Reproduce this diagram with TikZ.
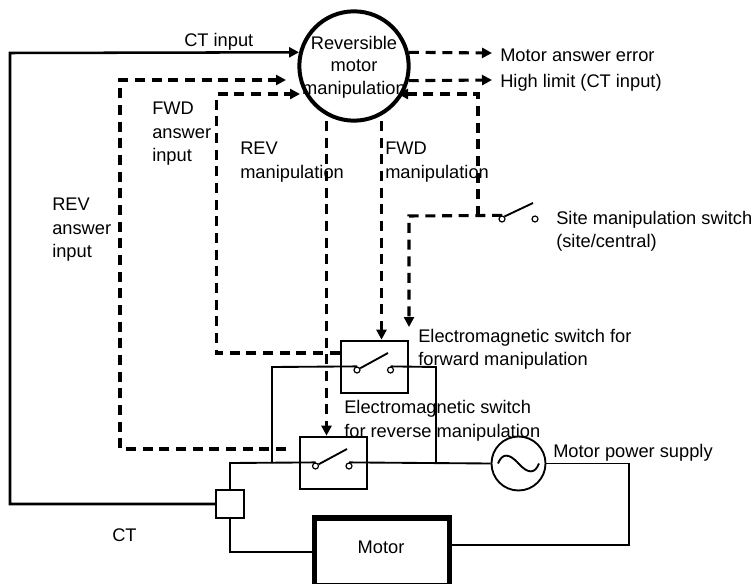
\documentclass[tikz,border=0pt]{standalone}
\usepackage{fontspec}
\setmainfont{Liberation Sans}
\usetikzlibrary{arrows.meta}

\begin{document}
\begin{tikzpicture}[
  x=0.75pt, y=-0.75pt,
  font=\fontsize{13.7}{17.6}\selectfont,
  txt/.style={anchor=west, align=left, inner sep=0pt},
  ctrlbox/.style={circle, draw, line width=3pt, minimum size=82pt, inner sep=0pt},
  relay/.style={draw, line width=1.4pt, minimum width=50.8pt, minimum height=39.6pt, inner sep=0pt},
  contact/.style={circle, draw, fill=white, line width=0.9pt, minimum size=4.5pt, inner sep=0pt},
  wire/.style={line width=1.4pt},
  lever/.style={line width=1.4pt},
  sigline/.style={-{Triangle[length=7.5pt,width=7.5pt]}, line width=1.9pt},
  dashline/.style={line width=2.3pt, dash pattern=on 7.5pt off 5pt},
  dasharrow/.style={dashline, -{Triangle[length=7.5pt,width=7.5pt,sep=0pt]}}
]
\useasboundingbox (0,0) rectangle (755,584);

\node[ctrlbox] (ctrl) at (354,66) {};
\node[align=center, inner sep=0pt, font=\fontsize{13.7}{16.8}\selectfont] (ctrltext) at (354,67) {Reversible\\motor\\manipulation};
\node[relay] (swf) at (374.5,367) {};
\node[relay] (swr) at (333.5,463) {};
\node[draw, line width=1.4pt, minimum size=20.5pt, inner sep=0pt] (ct) at (230,504) {};
\node[draw, line width=3.8pt, minimum width=101.5pt, minimum height=51pt, inner sep=0pt] (motor) at (382,552) {};
\node (motortext) at (381,547) {Motor};
\node[circle, draw, line width=1.4pt, minimum size=40.5pt, inner sep=0pt] (supply) at (518.5,463.5) {};

\node[contact] (fa) at (357,370) {};
\node[contact] (fb) at (390.5,370) {};
\node[contact] (ra) at (315.5,466) {};
\node[contact] (rb) at (349,466) {};
\node[contact] (sa) at (502,219) {};
\node[contact] (sb) at (535,219) {};
\coordinate (ftip) at (388,353);
\coordinate (rtip) at (347,449);
\coordinate (stip) at (533,203);

\coordinate (ctcorner) at (10,53);
\coordinate (bushigh) at (272,367);
\coordinate (buslow) at (272,463);
\coordinate (bushigh2) at (436,367);
\coordinate (buslow2) at (436,463);
\coordinate (ctjoin) at (230,463);
\coordinate (rightjoin) at (629,463.5);
\coordinate (rightjoin2) at (629,545);

\coordinate (errend) at (492,53);
\coordinate (limend) at (492,80);
\coordinate (revend) at (286,80);
\coordinate (fwdend) at (300,94);
\coordinate (revcorner) at (120,80);
\coordinate (fwdcorner) at (216.5,94);
\coordinate (revstart) at (286,449);
\coordinate (sitebus) at (478,216);
\coordinate (sitecorner) at (409,216);
\coordinate (siteend) at (409,327);
\coordinate (ctrlin) at (398,94);
\coordinate (revdown) at (326.5,121);
\coordinate (fwddown) at (381.5,121);

\draw[sigline] (ct.west) -| (ctcorner) -- (ctrl.166);
\draw[dasharrow] (ctrl.14) -- (errend);
\draw[dasharrow] (ctrl.-15) -- (limend);
\draw[dasharrow] (revstart) -| (revcorner) -- (revend);
\draw[dasharrow] (swf.west |- ftip) -| (fwdcorner) -- (fwdend);
\draw[dasharrow] (revdown) -- (revdown |- swr.north);
\draw[dasharrow] (fwddown) -- (fwddown |- swf.north);
\draw[dasharrow] (sitebus) |- (ctrlin);
\draw[dasharrow] (sa.north) -- (sitecorner) -- (siteend);

\draw[wire] (buslow) -- (bushigh) -- (fa.north);
\draw[wire] (fb.north) -- (bushigh2) -- (buslow2);
\draw[wire] (ct.north) -- (ctjoin) -- (ra.north);
\draw[wire] (rb.north) -- (supply.west);
\draw[wire] (ct.south) |- (motor.west);
\draw[wire] (supply.east) -- (rightjoin) -- (rightjoin2) -- (motor.east |- rightjoin2);
\draw[lever] (fa) -- (ftip);
\draw[lever] (ra) -- (rtip);
\draw[lever] (sa.north east) -- (stip);
\draw[wire] (supply.center) ++(-20.5,0) .. controls +(4,-10) and +(-10,-11) .. ++(20.5,0) .. controls +(10,11) and +(-4,10) .. ++(20.5,0);

\node[txt] (ctlabel) at (184,41.5) {CT input};
\node[txt] (errlabel) at (500,55) {Motor answer error};
\node[txt] (limlabel) at (500,83) {High limit (CT input)};
\node[txt] (fwdans) at (152,134) {FWD\\answer\\input};
\node[txt] (revman) at (240,162) {REV\\manipulation};
\node[txt] (fwdman) at (385,162) {FWD\\manipulation};
\node[txt] (revans) at (52,230) {REV\\answer\\input};
\node[txt] (sitelabel) at (556,231.5) {Site manipulation switch\\(site/central)};
\node[txt] (swflabel) at (418,349.5) {Electromagnetic switch for\\forward manipulation};
\node[txt] (swrlabel) at (344,421) {Electromagnetic switch\\for reverse manipulation};
\node[txt] (supplylabel) at (553,453) {Motor power supply};
\node[txt] (ctname) at (112,535) {CT};
\end{tikzpicture}
\end{document}
